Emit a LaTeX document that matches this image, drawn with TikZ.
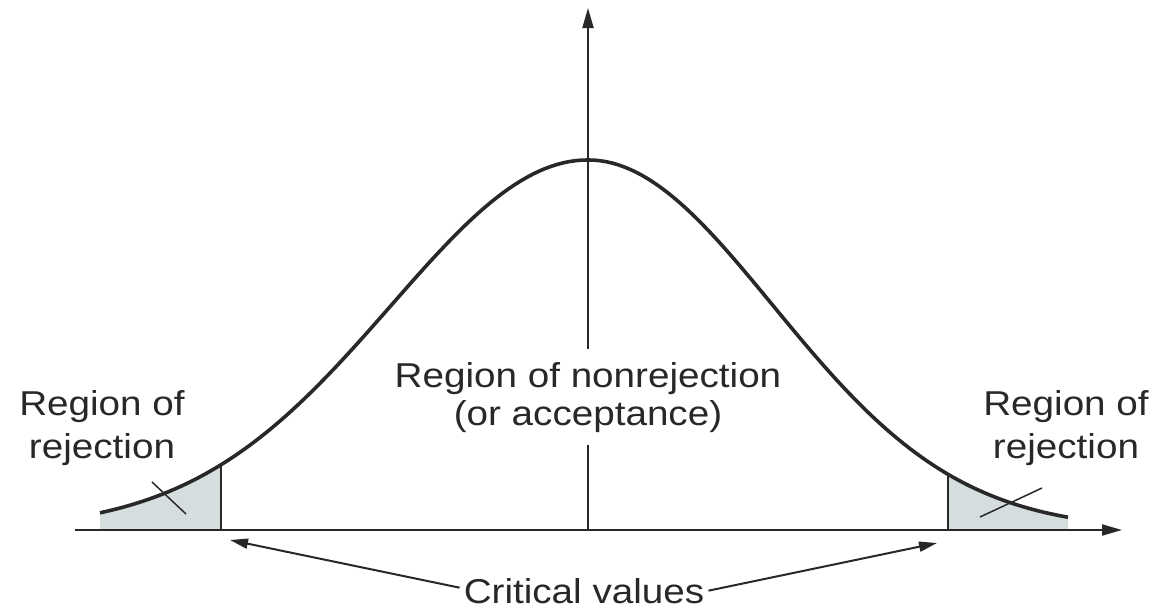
\documentclass[tikz,border=0pt]{standalone}
\usepackage{fontspec}
\setmainfont{Liberation Sans}[FakeStretch=1.12]
\usetikzlibrary{arrows.meta}
\definecolor{rejfill}{RGB}{214,221,223}
\definecolor{ink}{RGB}{40,40,40}
\tikzset{
  axis/.style={draw=ink, line width=2pt, -{Triangle[length=20pt,width=11pt]}},
  curve/.style={draw=ink, line width=3.6pt},
  lbl/.style={align=center, text=ink, inner sep=0pt},
  midlbl/.style={lbl, fill=white, inner ysep=13pt, font=\fontsize{34.5}{38}\selectfont},
  sidelbl/.style={lbl, font=\fontsize{34.5}{43}\selectfont},
  pointer/.style={draw=ink, line width=1.5pt},
  cvarrow/.style={draw=ink, line width=2pt, -{Triangle[length=18pt,width=10pt]}},
  critline/.style={draw=ink, line width=2pt},
}
\begin{document}
\begin{tikzpicture}[x=1pt,y=-1pt]
\useasboundingbox (0,0) rectangle (1158,613);
% shaded tails
\fill[rejfill] plot[domain=-2.477:-1.868,samples=30] ({588+197*\x},{530-370*exp(-\x*\x/2)}) -- (221,530) -- (100,530) -- cycle;
\fill[rejfill] plot[domain=1.946:2.595,samples=30] ({588+185*\x},{530-370*exp(-\x*\x/2)}) -- (1068,530) -- (948,530) -- cycle;
% critical value lines
\coordinate (cl) at (221,530);
\coordinate (cr) at (948,530);
\coordinate (clt) at (221,{530-370*exp(-1.868*1.868/2)});
\coordinate (crt) at (948,{530-370*exp(-1.946*1.946/2)});
\draw[critline] (cl) -- (clt);
\draw[critline] (cr) -- (crt);
% axes
\coordinate (xs) at (75,530);
\coordinate (xe) at (1122,530);
\coordinate (yo) at (588,530);
\coordinate (ye) at (588,8);
\draw[axis] (xs) -- (xe);
\draw[axis] (yo) -- (ye);
% curve
\draw[curve] plot[domain=-2.477:0,samples=80] ({588+197*\x},{530-370*exp(-\x*\x/2)})
  -- plot[domain=0:2.595,samples=80] ({588+185*\x},{530-370*exp(-\x*\x/2)});
% labels
\node[sidelbl, anchor=north] (lrej) at (102,390) {Region of\\rejection};
\node[sidelbl, anchor=north] (rrej) at (1066,390) {Region of\\rejection};
\node[midlbl, anchor=north] (mid) at (588,349) {Region of nonrejection\\(or acceptance)};
\node[lbl, font=\fontsize{34.5}{38}\selectfont, anchor=base] (cv) at (584,603) {Critical values};
% pointers
\coordinate (lp1) at (152,482);
\coordinate (lp2) at (186,514);
\coordinate (rp1) at (1042,488);
\coordinate (rp2) at (980,517);
\draw[pointer] (lp1) -- (lp2);
\draw[pointer] (rp1) -- (rp2);
% critical value arrows
\coordinate (cva) at ([xshift=-4pt,yshift=3pt]cv.west);
\coordinate (cvb) at ([xshift=4pt,yshift=0pt]cv.east);
\coordinate (tipl) at (230,540);
\coordinate (tipr) at (937,543);
\draw[cvarrow] (cva) -- (tipl);
\draw[cvarrow] (cvb) -- (tipr);
\end{tikzpicture}
\end{document}
